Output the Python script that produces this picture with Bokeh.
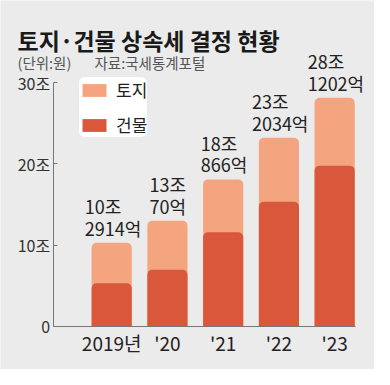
from bokeh.plotting import figure
from bokeh.models import Range1d, FixedTicker, Label, Legend, LegendItem, ColumnDataSource
from bokeh.models.glyphs import VBar
from bokeh.core.properties import value
from bokeh.embed import file_html
from bokeh.resources import INLINE

# ---- data (조 원) ----
years = ["2019년", "'20", "'21", "'22", "'23"]
building = [5.3, 6.96, 11.59, 15.33, 19.78]       # 건물
land = [4.99, 6.05, 6.50, 7.87, 8.34]             # 토지
total_labels = ["10조\n2914억", "13조\n70억", "18조\n866억", "23조\n2034억", "28조\n1202억"]
y_ticks = [0, 10, 20, 30]
y_tick_labels = ["0", "10조", "20조", "30조"]

BG = "#ebebeb"
LAND = "#f4a47f"
BLDG = "#d9573a"
NARROW = "'Liberation Sans Narrow', 'Noto Sans CJK KR', sans-serif"
KR = "'Noto Sans CJK KR', sans-serif"
LBL_FS = 18


def est_width(s, fs):
    return max(sum(0.5 * fs if not ('\uac00' <= c <= '\ud7a3') else fs for c in line)
               for line in s.split("\n"))


xs = list(range(len(years)))
tops = [b + l for b, l in zip(building, land)]
xoff = [-est_width(s, LBL_FS) / 2 for s in total_labels]
src = ColumnDataSource(dict(x=xs, building=building, top=tops, label=total_labels, xoff=xoff))

p = figure(width=374, height=369, output_backend="svg", toolbar_location=None, title=None,
           x_range=Range1d(-1.995, 4.715), y_range=Range1d(-5.30, 40.10),
           min_border_left=0, min_border_right=0, min_border_top=0, min_border_bottom=0,
           background_fill_color=BG, border_fill_color=BG, outline_line_color=None)
p.grid.visible = False

vb_kwargs = {}
if "border_radius" in VBar.properties():
    vb_kwargs["border_radius"] = (5, 5, 0, 0)

land_r = p.vbar(x="x", top="top", bottom=0, width=0.72, source=src,
                fill_color=LAND, line_color=None, **vb_kwargs)
bld_r = p.vbar(x="x", top="building", bottom=0, width=0.72, source=src,
               fill_color=BLDG, line_color=None, **vb_kwargs)

p.text(x="x", y="top", text="label", source=src, text_align="left", x_offset="xoff",
       text_baseline="bottom", y_offset=-2, text_font=value(NARROW),
       text_font_size=f"{LBL_FS}px", text_color="#222222", text_line_height=0.84)

ya = p.yaxis[0]
ya.fixed_location = -1.049
ya.ticker = FixedTicker(ticks=y_ticks)
ya.major_label_overrides = {t: s for t, s in zip(y_ticks, y_tick_labels)}
ya.bounds = (0, 30)
ya.axis_line_color = "#777777"
ya.major_tick_line_color = "#777777"
ya.major_tick_in = 4
ya.major_tick_out = 0
ya.minor_tick_line_color = None
ya.major_label_standoff = 3
ya.major_label_text_font = NARROW
ya.major_label_text_font_size = "16px"
ya.major_label_text_color = "#333333"

xa = p.xaxis[0]
xa.fixed_location = 0
xa.ticker = FixedTicker(ticks=xs)
xa.major_label_overrides = {i: s for i, s in zip(xs, years)}
xa.bounds = (-1.049, 4.37)
xa.axis_line_color = "#777777"
xa.major_tick_line_color = None
xa.minor_tick_line_color = None
xa.major_label_standoff = -3
xa.major_label_text_font = NARROW
xa.major_label_text_font_size = "19px"
xa.major_label_text_color = "#222222"

legend = Legend(items=[LegendItem(label="토지", renderers=[land_r]),
                       LegendItem(label="건물", renderers=[bld_r])],
                location=(79, 232), orientation="vertical",
                background_fill_color="white", background_fill_alpha=1.0,
                border_line_color=None, glyph_width=30, glyph_height=16,
                label_height=16, label_standoff=7, spacing=10, padding=9, margin=0,
                label_text_font=NARROW, label_text_font_size="17px",
                label_text_color="#222222", label_text_baseline="middle")
if "border_radius" in Legend.properties():
    legend.border_radius = 6
p.add_layout(legend)

p.add_layout(Label(x=17, y=330, x_units="screen", y_units="screen",
                   text="토지·건물 상속세 결정 현황", text_font=KR, text_font_style="bold",
                   text_font_size="23px", text_color="#1a1a1a", text_baseline="alphabetic"))
p.add_layout(Label(x=17, y=307, x_units="screen", y_units="screen",
                   text="(단위:원)", text_font=NARROW, text_font_size="14.5px",
                   text_color="#555555", text_baseline="alphabetic"))
p.add_layout(Label(x=94, y=307, x_units="screen", y_units="screen",
                   text="자료:국세통계포털", text_font=NARROW, text_font_size="14.5px",
                   text_color="#555555", text_baseline="alphabetic"))

html = file_html(p, INLINE)
html = html.replace("<body>", '<body style="background-color:#ebebeb;">', 1)
open("out.html", "w").write(html)
